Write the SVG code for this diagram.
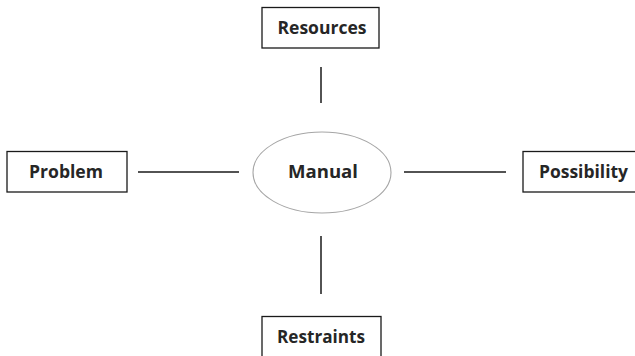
<svg xmlns="http://www.w3.org/2000/svg" width="635" height="356" viewBox="0 0 635 356">
  <style>
    .box { fill: #ffffff; stroke: #1a1a1a; stroke-width: 1.3; }
    .hub { fill: #ffffff; stroke: #a6a6a6; stroke-width: 1.1; }
    .label { font-family: "Open Sans", "Liberation Sans", sans-serif; font-weight: bold; font-size: 17px; fill: #262626; text-anchor: middle; }
    .link { stroke: #1a1a1a; stroke-width: 1.5; fill: none; }
  </style>
  <rect width="635" height="356" fill="#ffffff"/>

  <g id="connectors">
    <line class="link" x1="321" y1="67" x2="321" y2="103"/>
    <line class="link" x1="138" y1="172" x2="239" y2="172"/>
    <line class="link" x1="404" y1="172" x2="506" y2="172"/>
    <line class="link" x1="321" y1="236" x2="321" y2="294"/>
  </g>

  <g id="manual">
    <ellipse class="hub" cx="322" cy="172.5" rx="69" ry="40.5"/>
    <text class="label" x="323" y="177.5" textLength="70" lengthAdjust="spacingAndGlyphs">Manual</text>
  </g>

  <g id="resources">
    <rect class="box" x="262" y="7.5" width="117" height="40.5"/>
    <text class="label" x="322" y="33.5" textLength="89" lengthAdjust="spacingAndGlyphs">Resources</text>
  </g>

  <g id="problem">
    <rect class="box" x="7" y="151.5" width="120" height="40.5"/>
    <text class="label" x="66" y="177.5" textLength="74" lengthAdjust="spacingAndGlyphs">Problem</text>
  </g>

  <g id="possibility">
    <rect class="box" x="523" y="151.5" width="120" height="40.5"/>
    <text class="label" x="583.5" y="177.5" textLength="89" lengthAdjust="spacingAndGlyphs">Possibility</text>
  </g>

  <g id="restraints">
    <rect class="box" x="262" y="316.5" width="119" height="45"/>
    <text class="label" x="321" y="342.5" textLength="88" lengthAdjust="spacingAndGlyphs">Restraints</text>
  </g>
</svg>
